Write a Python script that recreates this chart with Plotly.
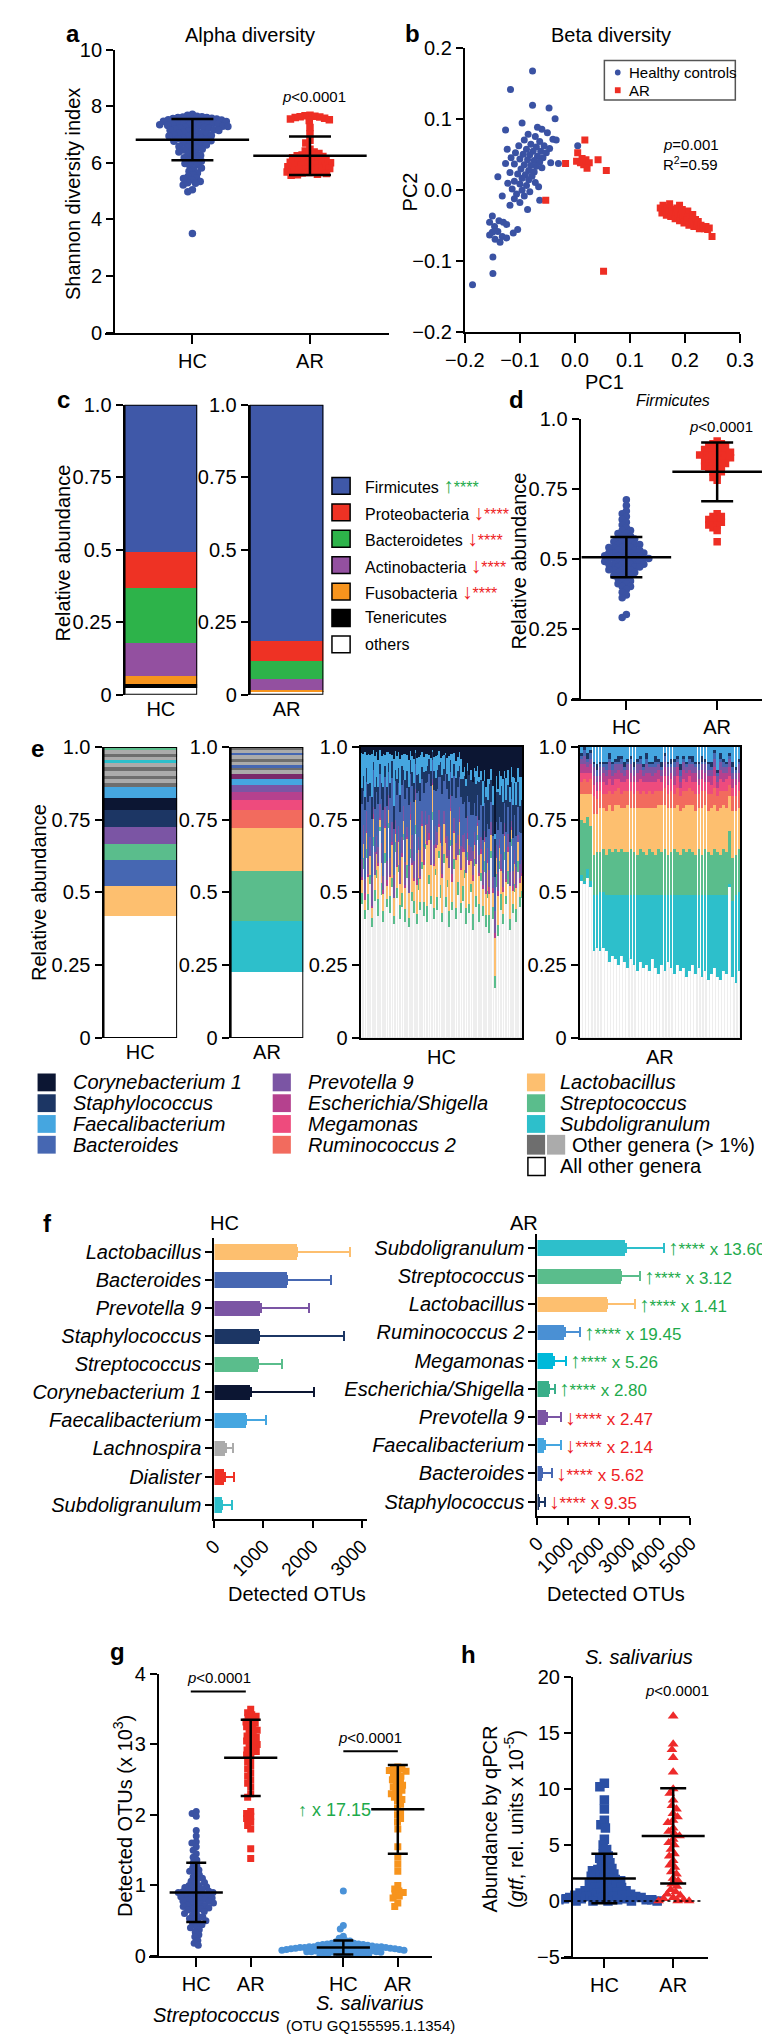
import numpy as np
import plotly.graph_objects as go

W, H = 770, 2040
FONT = "Liberation Sans, Arial, Helvetica, sans-serif"

# ======================= DATA =======================
# --- a: alpha diversity (Shannon) ---
alpha_cats = ["HC", "AR"]
alpha_hc = [7.72, 7.68, 7.65, 7.63, 7.62, 7.60, 7.60, 7.58, 7.57, 7.55,
            7.54, 7.52, 7.51, 7.50, 7.48, 7.47, 7.46, 7.45, 7.43, 7.42,
            7.41, 7.40, 7.38, 7.37, 7.36, 7.35, 7.33, 7.32, 7.30, 7.29,
            7.28, 7.26, 7.25, 7.23, 7.22, 7.20, 7.19, 7.17, 7.15, 7.14,
            7.12, 7.10, 7.08, 7.06, 7.05, 7.03, 7.01, 6.99, 6.97, 6.95,
            6.93, 6.91, 6.89, 6.87, 6.85, 6.83, 6.80, 6.78, 6.76, 6.74,
            6.71, 6.69, 6.66, 6.63, 6.60, 6.58, 6.55, 6.52, 6.48, 6.45,
            6.42, 6.38, 6.34, 6.30, 6.26, 6.22, 6.18, 6.14, 6.10, 6.06,
            6.02, 5.98, 5.93, 5.88, 5.82, 5.76, 5.70, 5.64, 5.58, 5.52,
            5.46, 5.40, 5.34, 5.28, 5.22, 5.30, 5.45, 5.05, 4.98, 3.50]
alpha_ar = [7.68, 7.66, 7.65, 7.63, 7.62, 7.60, 7.58, 7.55, 7.52, 7.50, 7.25,
            7.02, 6.80, 6.70, 6.48, 6.42, 6.38, 6.33, 6.30, 6.28, 6.25, 6.22,
            6.20, 6.18, 6.15, 6.12, 6.10, 6.08, 6.06, 6.04, 6.02, 6.00, 5.98,
            5.96, 5.94, 5.92, 5.90, 5.88, 5.86, 5.84, 5.82, 5.80, 5.78, 5.76,
            5.74, 5.72, 5.70, 5.68, 5.66, 5.64, 5.62, 5.60, 5.58, 5.56]
alpha_mean = [6.82, 6.25]
alpha_sd = [0.73, 0.68]

# --- b: beta diversity PCoA ---
pc1_hc = [-0.077, -0.117, -0.077, -0.047, -0.036, -0.096, -0.126, -0.068, -0.060, -0.050,
          -0.085, -0.072, -0.040, -0.092, -0.064, -0.080, -0.102, -0.056, -0.070, -0.123,
          -0.088, -0.076, -0.062, -0.108, -0.094, -0.082, -0.068, -0.058, -0.116, -0.100,
          -0.086, -0.074, -0.064, -0.044, -0.030, -0.126, -0.110, -0.092, -0.080, -0.070,
          -0.060, -0.098, -0.084, -0.074, -0.118, -0.104, -0.090, -0.078, -0.140, -0.096,
          -0.084, -0.110, -0.122, -0.100, -0.088, -0.066, -0.114, -0.096, -0.082, -0.106,
          -0.132, -0.092, -0.110, -0.064, -0.100, -0.118, -0.086, -0.150, -0.155, -0.138,
          -0.130, -0.124, -0.146, -0.104, -0.150, -0.140, -0.112, -0.155, -0.132, -0.124,
          -0.145, -0.136, -0.149, -0.149, -0.186, 0.005, -0.034, -0.052, -0.046, -0.072]
pc2_hc = [0.167, 0.141, 0.119, 0.115, 0.100, 0.094, 0.084, 0.088, 0.085, 0.080,
          0.078, 0.075, 0.071, 0.070, 0.068, 0.064, 0.062, 0.062, 0.060, 0.057,
          0.057, 0.054, 0.054, 0.052, 0.050, 0.049, 0.047, 0.045, 0.045, 0.043,
          0.042, 0.041, 0.039, 0.038, 0.037, 0.037, 0.036, 0.035, 0.034, 0.033,
          0.031, 0.029, 0.027, 0.025, 0.024, 0.022, 0.021, 0.019, 0.018, 0.016,
          0.014, 0.012, 0.009, 0.008, 0.006, 0.004, 0.001, -0.001, -0.003, -0.006,
          -0.009, -0.009, -0.013, -0.015, -0.018, -0.022, -0.028, -0.037, -0.046, -0.044,
          -0.046, -0.049, -0.052, -0.056, -0.060, -0.059, -0.061, -0.064, -0.066, -0.068,
          -0.070, -0.074, -0.095, -0.118, -0.134, 0.062, 0.070, 0.052, 0.058, 0.010]
pc1_ar = [-0.017, 0.005, 0.018, 0.003, 0.010, 0.016, 0.020, 0.026, 0.022, 0.042, 0.057, 0.013, -0.053, 0.052,
          0.155, 0.158, 0.160, 0.163, 0.166, 0.168, 0.171, 0.174, 0.176, 0.179,
          0.182, 0.184, 0.187, 0.190, 0.190, 0.193, 0.196, 0.198, 0.200, 0.203,
          0.205, 0.207, 0.209, 0.212, 0.214, 0.216, 0.219, 0.221, 0.224, 0.226,
          0.229, 0.232, 0.235, 0.238, 0.241, 0.244, 0.249, 0.172, 0.185, 0.195]
pc2_ar = [0.037, 0.052, 0.070, 0.040, 0.038, 0.035, 0.042, 0.038, 0.030, 0.042, 0.027, 0.044, -0.015, -0.115,
          -0.026, -0.033, -0.022, -0.029, -0.036, -0.025, -0.031, -0.038, -0.028, -0.034,
          -0.041, -0.030, -0.037, -0.022, -0.044, -0.033, -0.040, -0.047, -0.036, -0.043,
          -0.030, -0.050, -0.039, -0.046, -0.035, -0.052, -0.042, -0.049, -0.045, -0.055,
          -0.050, -0.053, -0.055, -0.052, -0.056, -0.054, -0.066, -0.020, -0.026, -0.028]

# --- c: phylum composition (bottom -> top) ---
phyla = ["others", "Tenericutes", "Fusobacteria", "Actinobacteria", "Bacteroidetes", "Proteobacteria", "Firmicutes"]
phyla_hc = [0.022, 0.014, 0.030, 0.112, 0.191, 0.125, 0.506]
phyla_ar = [0.011, 0.002, 0.004, 0.036, 0.064, 0.068, 0.815]
phyla_legend = ["Firmicutes", "Proteobacteria", "Bacteroidetes", "Actinobacteria", "Fusobacteria", "Tenericutes", "others"]
phyla_change = ["up", "down", "down", "down", "down", "", ""]

# --- d: Firmicutes relative abundance ---
firm_hc = [0.71, 0.69, 0.67, 0.66, 0.65, 0.64, 0.63, 0.62, 0.61, 0.60, 0.60, 0.59, 0.59, 0.58, 0.58,
           0.57, 0.57, 0.57, 0.56, 0.56, 0.56, 0.55, 0.55, 0.55, 0.55, 0.54, 0.54, 0.54, 0.54, 0.53,
           0.53, 0.53, 0.53, 0.52, 0.52, 0.52, 0.52, 0.52, 0.51, 0.51, 0.51, 0.51, 0.51, 0.50, 0.50,
           0.50, 0.50, 0.50, 0.50, 0.49, 0.49, 0.49, 0.49, 0.49, 0.48, 0.48, 0.48, 0.48, 0.48, 0.47,
           0.47, 0.47, 0.47, 0.46, 0.46, 0.46, 0.46, 0.45, 0.45, 0.45, 0.44, 0.44, 0.44, 0.43, 0.43,
           0.42, 0.42, 0.41, 0.41, 0.40, 0.40, 0.39, 0.38, 0.37, 0.36, 0.30, 0.29]
firm_ar = [0.92, 0.91, 0.91, 0.90, 0.90, 0.90, 0.89, 0.89, 0.89, 0.88, 0.88, 0.88, 0.88, 0.87, 0.87,
           0.87, 0.87, 0.86, 0.86, 0.86, 0.86, 0.85, 0.85, 0.85, 0.84, 0.84, 0.84, 0.83, 0.83, 0.83,
           0.82, 0.82, 0.81, 0.81, 0.80, 0.79, 0.78, 0.66, 0.65, 0.65, 0.64, 0.64, 0.63, 0.63, 0.62,
           0.62, 0.61, 0.60, 0.56]
firm_mean = [0.505, 0.81]
firm_sd = [0.072, 0.105]

# --- e: genus composition, pooled (bottom -> top) ---
e_hc_genus = ["All other genera", "Lactobacillus", "Bacteroides", "Streptococcus", "Prevotella 9",
              "Staphylococcus", "Corynebacterium 1", "Faecalibacterium", "Other dark", "Other light",
              "Other dark", "Other light", "Other dark", "Other light", "Subdoligranulum", "Other light",
              "Other dark", "Other light", "Streptococcus"]
e_hc_frac = [0.420, 0.103, 0.089, 0.056, 0.058, 0.057, 0.043, 0.038, 0.012, 0.015,
             0.010, 0.018, 0.012, 0.015, 0.008, 0.012, 0.010, 0.012, 0.012]
e_ar_genus = ["All other genera", "Subdoligranulum", "Streptococcus", "Lactobacillus", "Ruminococcus 2",
              "Megamonas", "Escherichia/Shigella", "Prevotella 9", "Faecalibacterium", "Other genus",
              "Other light", "Other dark", "Bacteroides", "Other light", "Other dark", "Other light",
              "Bacteroides", "Other light", "Other dark"]
e_ar_frac = [0.225, 0.178, 0.172, 0.147, 0.062, 0.034, 0.027, 0.023, 0.022, 0.018,
             0.012, 0.008, 0.010, 0.012, 0.010, 0.012, 0.008, 0.010, 0.010]

# --- e: HC per-sample: "all other genera" (% of reads) and shares (%) of the remaining genera ---
hc_s_other = [46, 58, 41, 62, 44, 53, 38, 66, 47, 55, 42, 71, 49, 40, 60, 45, 72, 43, 52, 39, 64, 48, 57, 41,
              45, 68, 40, 55, 38, 62, 47, 43, 70, 39, 51, 44, 58, 42, 65, 40, 53, 46, 75, 41, 56, 44, 62, 48,
              40, 60, 45, 52, 38, 66, 44, 58, 41, 49, 63, 43, 47, 55, 39, 61, 43, 50, 37, 59, 45, 68, 40, 54,
              42, 57, 38, 48, 36, 62, 41, 17, 52, 35, 58, 44, 39, 61, 46, 53, 37, 66, 43, 50, 40, 57, 45, 48]
hc_sh_strep = [7, 9, 5, 8, 10, 6, 5, 9, 7, 6, 10, 5, 8, 6, 9, 5, 7, 10, 6, 5, 9, 7, 6, 8,
               9, 6, 7, 10, 5, 8, 6, 7, 11, 6, 8, 5, 6, 8, 5, 9, 6, 5, 10, 6, 5, 8, 6, 9,
               5, 8, 6, 5, 9, 6, 5, 8, 6, 9, 5, 6, 10, 6, 9, 7, 5, 6, 9, 6, 7, 5, 10, 6,
               6, 9, 7, 5, 10, 6, 7, 5, 9, 6, 7, 10, 6, 7, 5, 9, 6, 7, 5, 6, 7, 9, 6, 5]
hc_sh_lacto = [8, 12, 6, 15, 10, 14, 6, 18, 10, 12, 20, 8, 14, 10, 22, 8, 16, 12, 24, 10, 8, 14, 18, 12,
               22, 15, 12, 20, 14, 26, 18, 12, 28, 16, 20, 14, 30, 22, 18, 35, 26, 20, 38, 25, 16, 32, 22, 28,
               20, 26, 34, 16, 24, 30, 12, 22, 28, 18, 25, 20, 22, 14, 20, 12, 24, 16, 18, 12, 20, 10, 16, 14,
               10, 15, 12, 18, 11, 14, 8, 16, 12, 15, 10, 14, 12, 15, 9, 14, 18, 10, 8, 14, 12, 15, 9, 10]
hc_sh_esch = [2, 0, 4, 1, 2, 0, 1, 5, 0, 2, 1, 3, 0, 2, 1, 4, 0, 1, 2, 0, 5, 1, 2, 0,
              3, 0, 2, 1, 0, 5, 1, 2, 0, 3, 1, 2, 1, 3, 0, 2, 5, 0, 2, 1, 3, 0, 2, 1,
              2, 0, 3, 1, 0, 2, 5, 1, 2, 0, 3, 1, 3, 2, 0, 5, 2, 1, 3, 2, 0, 3, 2, 4,
              2, 3, 1, 2, 4, 0, 3, 2, 1, 3, 2, 1, 3, 1, 2, 4, 0, 2, 3, 1, 2, 0, 3, 2]
hc_sh_prev = [12, 15, 8, 18, 10, 14, 16, 7, 15, 12, 10, 16, 13, 8, 16, 12, 18, 10, 14, 13, 8, 16, 11, 14,
              10, 16, 13, 8, 15, 11, 18, 10, 13, 15, 8, 16, 11, 8, 14, 10, 13, 16, 6, 11, 14, 8, 13, 10,
              16, 11, 8, 14, 10, 13, 18, 11, 8, 14, 11, 13, 8, 12, 9, 15, 10, 8, 13, 9, 12, 8, 10, 9,
              9, 6, 10, 8, 9, 12, 6, 9, 8, 10, 6, 9, 8, 10, 6, 9, 8, 6, 9, 8, 10, 6, 9, 8]
hc_sh_bact = [35, 28, 40, 26, 34, 30, 32, 38, 28, 34, 25, 36, 30, 38, 26, 34, 28, 36, 32, 26, 38, 30, 34, 28,
              32, 28, 36, 30, 34, 26, 32, 36, 28, 34, 32, 30, 26, 32, 28, 24, 30, 34, 26, 32, 28, 26, 30, 32,
              30, 26, 32, 34, 28, 24, 30, 34, 26, 32, 28, 30, 20, 24, 22, 18, 26, 22, 20, 24, 18, 22, 20, 24,
              18, 22, 20, 16, 22, 18, 24, 14, 16, 22, 18, 20, 22, 18, 24, 20, 16, 22, 20, 24, 18, 22, 20, 18]
hc_sh_staph = [10, 12, 8, 13, 11, 10, 12, 8, 14, 11, 10, 12, 11, 13, 10, 12, 11, 9, 12, 13, 10, 11, 12, 10,
               12, 10, 11, 13, 10, 12, 9, 11, 13, 10, 12, 11, 10, 12, 11, 9, 11, 10, 12, 11, 10, 12, 11, 10,
               11, 10, 12, 11, 10, 12, 11, 10, 12, 11, 10, 11, 16, 20, 18, 22, 16, 24, 18, 22, 20, 16, 22, 18,
               20, 18, 22, 16, 24, 20, 18, 16, 22, 20, 18, 22, 18, 22, 20, 16, 22, 18, 20, 22, 18, 20, 16, 22]
hc_sh_cory = [4, 6, 3, 7, 4, 6, 4, 3, 6, 4, 8, 4, 6, 4, 7, 3, 6, 4, 6, 7, 4, 6, 4, 7,
              5, 7, 4, 6, 7, 4, 6, 7, 4, 6, 7, 5, 4, 6, 7, 4, 6, 7, 4, 6, 7, 5, 4, 7,
              5, 7, 4, 8, 5, 7, 4, 5, 8, 7, 5, 7, 16, 15, 18, 14, 17, 16, 19, 18, 15, 20, 17, 18,
              20, 18, 22, 21, 17, 20, 23, 36, 21, 22, 20, 18, 18, 21, 20, 17, 22, 20, 18, 21, 20, 17, 19, 20]

# --- e: AR per-sample composition (% of reads), bottom -> top ---
ar_s_other = [54, 53, 55, 52, 30, 31, 30, 31, 30, 26, 28, 27, 25, 28, 26, 24, 27, 25, 23, 26, 24, 25, 23, 27, 24, 22,
              25, 23, 26, 24, 22, 25, 23, 24, 21, 23, 25, 22, 24, 21, 23, 20, 22, 24, 21, 20, 23, 22, 52, 21, 19, 23]
ar_s_subdo = [2, 1, 3, 2, 19, 18, 20, 19, 19, 23, 21, 22, 24, 21, 23, 25, 22, 24, 26, 23, 25, 24, 26, 22, 25, 27,
              24, 26, 23, 25, 27, 24, 26, 25, 28, 26, 24, 27, 25, 28, 26, 29, 27, 25, 28, 29, 26, 27, 1, 26, 30, 27]
ar_s_strep = [19, 20, 18, 19, 14, 15, 14, 15, 14, 16, 15, 16, 15, 16, 15, 15, 16, 15, 14, 16, 15, 14, 16, 15, 14, 16,
              15, 16, 14, 15, 16, 15, 14, 16, 15, 16, 15, 14, 16, 14, 16, 15, 14, 16, 15, 14, 16, 15, 18, 15, 14, 15]
ar_s_lacto = [9, 10, 8, 11, 14, 13, 15, 14, 15, 15, 14, 15, 16, 14, 15, 16, 14, 15, 16, 14, 15, 16, 14, 15, 16, 15,
              16, 15, 16, 15, 14, 16, 15, 14, 16, 15, 16, 15, 14, 16, 15, 14, 16, 15, 14, 16, 15, 15, 12, 16, 15, 14]
ar_s_rumi = [4, 5, 4, 5, 6, 5, 6, 5, 6, 5, 6, 5, 6, 5, 6, 5, 6, 5, 6, 5, 6, 5, 6, 5, 6, 5,
             5, 6, 5, 6, 5, 6, 5, 6, 5, 6, 5, 6, 5, 6, 5, 6, 5, 6, 5, 6, 5, 6, 4, 5, 5, 6]
ar_s_mega = [3, 2, 3, 2, 4, 3, 3, 4, 3, 4, 3, 4, 3, 4, 3, 4, 3, 4, 3, 5, 3, 4, 3, 4, 3, 4,
             3, 4, 3, 4, 3, 4, 3, 4, 3, 4, 3, 4, 3, 4, 3, 4, 3, 4, 3, 4, 3, 4, 3, 3, 4, 3]
ar_s_esch = [3, 3, 2, 3, 3, 3, 2, 3, 3, 3, 3, 2, 3, 3, 2, 3, 3, 2, 3, 3, 2, 3, 3, 2, 3, 3,
             2, 3, 3, 2, 3, 3, 2, 3, 3, 2, 3, 3, 2, 3, 3, 2, 3, 3, 2, 3, 3, 2, 3, 3, 2, 3]
ar_s_prev = [2, 3, 2, 2, 3, 2, 3, 2, 2, 3, 2, 3, 2, 3, 2, 2, 3, 2, 3, 2, 2, 3, 2, 3, 2, 2,
             2, 2, 3, 2, 3, 2, 2, 3, 2, 2, 3, 2, 3, 2, 3, 2, 2, 3, 2, 3, 2, 2, 3, 2, 2, 3]
ar_s_bact = [1, 2, 1, 2, 1, 2, 1, 1, 2, 1, 2, 1, 1, 2, 1, 1, 2, 1, 1, 2, 1, 2, 1, 1, 2, 1,
             1, 2, 1, 1, 2, 1, 2, 1, 1, 2, 1, 1, 2, 1, 1, 2, 1, 2, 1, 1, 2, 1, 1, 2, 1, 1]
ar_s_staph = [1, 1, 2, 1, 1, 2, 1, 1, 1, 2, 1, 1, 2, 1, 2, 1, 1, 2, 1, 1, 1, 2, 1, 1, 2, 1,
              2, 1, 1, 2, 1, 1, 2, 1, 1, 1, 2, 1, 1, 2, 1, 1, 2, 1, 1, 2, 1, 1, 1, 2, 1, 1]

# --- f: detected OTUs per genus (mean, SD) ---
f_hc_genus = ["Lactobacillus", "Bacteroides", "Prevotella 9", "Staphylococcus", "Streptococcus",
              "Corynebacterium 1", "Faecalibacterium", "Lachnospira", "Dialister", "Subdoligranulum"]
f_hc_otu = [1692, 1480, 942, 913, 894, 740, 644, 231, 212, 163]
f_hc_sd = [1068, 895, 991, 1722, 491, 1289, 404, 154, 192, 193]
f_ar_genus = ["Subdoligranulum", "Streptococcus", "Lactobacillus", "Ruminococcus 2", "Megamonas",
              "Escherichia/Shigella", "Prevotella 9", "Faecalibacterium", "Bacteroides", "Staphylococcus"]
f_ar_otu = [2892, 2738, 2277, 892, 538, 385, 308, 231, 154, 46]
f_ar_sd = [1231, 600, 923, 493, 385, 200, 462, 539, 308, 185]
f_ar_dir = ["up", "up", "up", "up", "up", "up", "down", "down", "down", "down"]
f_ar_fold = ["13.60", "3.12", "1.41", "19.45", "5.26", "2.80", "2.47", "2.14", "5.62", "9.35"]

# --- g: Streptococcus and S. salivarius OTUs (x 10^3) ---
g_labels = ["HC", "AR", "HC", "AR"]
strep_hc = [2.05, 2.02, 1.98, 1.78, 1.70, 1.62, 1.60, 1.55, 1.50, 1.45, 1.40, 1.36, 1.32, 1.28, 1.25,
            1.22, 1.20, 1.18, 1.15, 1.12, 1.10, 1.08, 1.06, 1.04, 1.02, 1.00, 1.00, 0.98, 0.97, 0.96,
            0.95, 0.94, 0.93, 0.92, 0.91, 0.90, 0.90, 0.89, 0.88, 0.87, 0.86, 0.85, 0.85, 0.84, 0.83,
            0.82, 0.81, 0.80, 0.80, 0.79, 0.78, 0.77, 0.76, 0.75, 0.74, 0.73, 0.72, 0.71, 0.70, 0.69,
            0.68, 0.67, 0.66, 0.65, 0.63, 0.62, 0.60, 0.58, 0.56, 0.55, 0.53, 0.52, 0.50, 0.48, 0.46,
            0.44, 0.42, 0.40, 0.37, 0.34, 0.30, 0.27, 0.22, 0.18, 0.15]
strep_ar = [3.50, 3.45, 3.42, 3.40, 3.38, 3.35, 3.32, 3.30, 3.28, 3.25, 3.22, 3.20, 3.18, 3.15, 3.12,
            3.10, 3.08, 3.05, 3.02, 3.00, 2.98, 2.95, 2.92, 2.90, 2.88, 2.85, 2.80, 2.75, 2.70, 2.65,
            2.60, 2.55, 2.50, 2.45, 2.40, 2.30, 2.25, 2.05, 2.02, 1.98, 1.95, 1.90, 1.85, 1.80, 1.52, 1.38]
sal_hc = [0.92, 0.43, 0.38, 0.28, 0.25, 0.22, 0.21, 0.20, 0.19, 0.18, 0.18, 0.17, 0.17, 0.16, 0.16,
          0.15, 0.15, 0.15, 0.14, 0.14, 0.14, 0.13, 0.13, 0.13, 0.13, 0.12, 0.12, 0.12, 0.12, 0.11,
          0.11, 0.11, 0.11, 0.10, 0.10, 0.10, 0.10, 0.10, 0.09, 0.09, 0.09, 0.09, 0.08, 0.08, 0.08,
          0.08, 0.07, 0.07, 0.07, 0.06, 0.06, 0.06, 0.05, 0.05, 0.05, 0.04, 0.04, 0.03, 0.03, 0.02,
          0.02, 0.01, 0.01, 0.00, 0.00]
sal_ar = [2.68, 2.66, 2.65, 2.63, 2.62, 2.60, 2.58, 2.55, 2.52, 2.50, 2.48, 2.45, 2.42, 2.40, 2.38,
          2.35, 2.32, 2.30, 2.27, 2.25, 2.22, 2.20, 2.15, 2.10, 2.05, 2.00, 1.95, 1.90, 1.80, 1.55,
          1.40, 1.30, 1.20, 1.00, 0.95, 0.92, 0.90, 0.88, 0.85, 0.82, 0.75, 0.70]
g_mean = [0.90, 2.81, 0.12, 2.08]
g_sd = [0.42, 0.54, 0.10, 0.63]

# --- h: S. salivarius qPCR ---
h_cats = ["HC", "AR"]
qpcr_hc = [10.5, 10.2, 9.0, 8.2, 7.2, 6.8, 6.5, 5.5, 5.0, 4.6, 4.2, 4.0, 3.8, 3.6, 3.4, 3.2, 3.0, 2.9,
           2.8, 2.7, 2.6, 2.5, 2.4, 2.3, 2.2, 2.1, 2.0, 1.9, 1.8, 1.8, 1.7, 1.6, 1.5, 1.5, 1.4, 1.3,
           1.2, 1.2, 1.1, 1.0, 1.0, 0.9, 0.9, 0.8, 0.8, 0.7, 0.7, 0.6, 0.6, 0.5, 0.5, 0.5, 0.4, 0.4,
           0.4, 0.3, 0.3, 0.3, 0.2, 0.2, 0.2, 0.2, 0.1, 0.1, 0.1, 0.1, 0.1, 0.0, 0.0, 0.0, 0.0, 0.0, 0.0]
qpcr_ar = [16.5, 14.0, 13.5, 12.8, 11.5, 10.0, 9.6, 9.0, 8.5, 8.2, 7.8, 7.5, 7.2, 7.0, 6.5, 6.2, 6.0,
           5.8, 5.5, 5.2, 5.0, 4.6, 4.2, 4.0, 3.6, 3.2, 3.0, 2.6, 2.4, 2.0, 1.8, 1.5, 1.3, 1.0, 0.8,
           0.6, 0.5, 0.3, 0.2, 0.1, 0.0, 0.0, 0.0]
qpcr_mean = [2.0, 5.8]
qpcr_sd = [2.2, 4.25]

# ======================= STYLE =======================
BLUE = "#3A52A3"
RED = "#EE2E24"
UPC = "#1DAA4B"
DNC = "#EE1C24"
PHY_COL = {"Firmicutes": "#3F58A8", "Proteobacteria": "#EE3224", "Bacteroidetes": "#2DB34A",
           "Actinobacteria": "#9350A0", "Fusobacteria": "#F7941D", "Tenericutes": "#000000",
           "others": "#FFFFFF"}
GEN_COL = {"Corynebacterium 1": "#0C1633", "Staphylococcus": "#1C3664", "Faecalibacterium": "#45A6E0",
           "Bacteroides": "#4667B2", "Prevotella 9": "#7B55A4", "Escherichia/Shigella": "#B5418E",
           "Megamonas": "#EE4B7D", "Ruminococcus 2": "#F26B5E", "Lactobacillus": "#FDBF6F",
           "Streptococcus": "#5ABD8C", "Subdoligranulum": "#2DBFCB", "Other dark": "#6E6E6E",
           "Other light": "#ABABAB", "Other genus": "#7A2B6B", "All other genera": "#FFFFFF",
           "Lachnospira": "#ABABAB", "Dialister": "#EF3125"}
F_AR_COL = dict(GEN_COL)
F_AR_COL.update({"Ruminococcus 2": "#4A90D4", "Megamonas": "#00B9DA", "Escherichia/Shigella": "#3AAF8A"})


def dom_x(a, b):
    return [a / W, b / W]


def dom_y(top, bot):
    return [1 - bot / H, 1 - top / H]


def lin_range(p0, p1, pa, va, pb, vb):
    s = (vb - va) / (pb - pa)
    return [va + (p0 - pa) * s, va + (p1 - pa) * s]


def swarm(vals, ppu_y, d):
    ys = np.asarray(vals, float) * ppu_y
    order = np.argsort(-ys, kind="stable")
    qx, qy = [], []
    out = np.zeros(len(ys))
    for i in order:
        y = ys[i]
        ivs = []
        for a, b in zip(qx, qy):
            dv = abs(y - b)
            if dv < d:
                w = np.sqrt(d * d - dv * dv)
                ivs.append((a - w, a + w))
        cands = [0.0] + [a for a, b in ivs] + [b for a, b in ivs]
        cands.sort(key=lambda c: (abs(c), c))
        for c in cands:
            if all(not (a + 1e-6 < c < b - 1e-6) for a, b in ivs):
                out[i] = c
                break
        qx.append(out[i])
        qy.append(y)
    return out


fig = go.Figure()
layout_axes = {}


def axis_base(**kw):
    d = dict(showline=True, linecolor="black", linewidth=2, ticks="outside", ticklen=7, tickwidth=2,
             tickcolor="black", showgrid=False, zeroline=False, fixedrange=True,
             tickfont=dict(family=FONT, size=20, color="black"))
    d.update(kw)
    return d


def add_axes(n, xdom, xrange, ydom, yrange, xkw=None, ykw=None):
    sx = "" if n == 1 else str(n)
    xa = axis_base(domain=xdom, range=xrange, anchor="y" + sx)
    ya = axis_base(domain=ydom, range=yrange, anchor="x" + sx)
    xa.update(xkw or {})
    ya.update(ykw or {})
    layout_axes["xaxis" + sx] = xa
    layout_axes["yaxis" + sx] = ya
    return "x" + sx, "y" + sx


def swarm_panel(xr, yr, groups, xpos, colors, symbols, size, d, ppu_x, ppu_y, means, sds, mean_len, cap):
    for vals, x0, col, sym in zip(groups, xpos, colors, symbols):
        off = swarm(vals, ppu_y, d)
        fig.add_trace(go.Scatter(x=x0 + off / ppu_x, y=vals, mode="markers", xaxis=xr, yaxis=yr,
                                 marker=dict(color=col, size=size, symbol=sym, line=dict(width=0)),
                                 showlegend=False, hoverinfo="skip"))
    for x0, m, s in zip(xpos, means, sds):
        fig.add_trace(go.Scatter(x=[x0], y=[m], mode="markers", xaxis=xr, yaxis=yr, showlegend=False,
                                 marker=dict(symbol="line-ew", size=mean_len, color="black",
                                             line=dict(width=2.5, color="black")),
                                 error_y=dict(type="data", array=[s], visible=True, color="black",
                                              thickness=2.5, width=cap), hoverinfo="skip"))


# ---------------- panel a ----------------
xa_rng = lin_range(81, 378, 172, 0, 295, 1)
xr, yr = add_axes(1, dom_x(81, 378), xa_rng, dom_y(31, 317), [0, 10],
                  xkw=dict(tickvals=[0, 1], ticktext=alpha_cats, ticklen=9),
                  ykw=dict(anchor="free", position=90 / W, tickvals=[0, 2, 4, 6, 8, 10]))
swarm_panel(xr, yr, [alpha_hc, alpha_ar], [0, 1], [BLUE, RED], ["circle", "square"], 7.5, 5.2,
            123.0, 28.6, alpha_mean, alpha_sd, 81, 21)

# ---------------- panel b ----------------
xr, yr = add_axes(2, dom_x(457, 745), [-0.2, 0.3], dom_y(29, 316), [-0.2, 0.2],
                  xkw=dict(tickvals=[-0.2, -0.1, 0, 0.1, 0.2, 0.3], tickformat=".1f", ticklen=9),
                  ykw=dict(tickvals=[-0.2, -0.1, 0, 0.1, 0.2], tickformat=".1f"))
fig.add_trace(go.Scatter(x=pc1_hc, y=pc2_hc, mode="markers", xaxis=xr, yaxis=yr, showlegend=False,
                         marker=dict(color=BLUE, size=7, symbol="circle")))
fig.add_trace(go.Scatter(x=pc1_ar, y=pc2_ar, mode="markers", xaxis=xr, yaxis=yr, showlegend=False,
                         marker=dict(color=RED, size=7, symbol="square")))

# ---------------- panel c ----------------
shapes = []
for n, vals, lab, xd in [(3, phyla_hc, "HC", (101, 177)), (4, phyla_ar, "AR", (232, 309))]:
    xr, yr = add_axes(n, dom_x(*xd), [-0.5, 0.5], dom_y(390, 683), [0, 1],
                      xkw=dict(showline=False, ticks="", tickvals=[0], ticktext=[lab]),
                      ykw=dict(tickvals=[0, 0.25, 0.5, 0.75, 1.0], ticktext=["0", "0.25", "0.5", "0.75", "1.0"]))
    for ph, v in zip(phyla, vals):
        fig.add_trace(go.Bar(x=[0], y=[v], width=1, xaxis=xr, yaxis=yr, marker_color=PHY_COL[ph],
                             marker_line_width=0, showlegend=False, hoverinfo="skip"))
    shapes.append(dict(type="rect", xref=xr, yref=yr, x0=-0.5, x1=0.5, y0=0, y1=1,
                       line=dict(color="black", width=2)))

# ---------------- panel d ----------------
xd_rng = lin_range(568, 768, 626, 0, 721, 1)
xr, yr = add_axes(5, dom_x(568, 768), xd_rng, dom_y(404, 687), [0, 1],
                  xkw=dict(tickvals=[0, 1], ticktext=alpha_cats, ticklen=9),
                  ykw=dict(anchor="free", position=577 / W, tickvals=[0, 0.25, 0.5, 0.75, 1.0],
                           ticktext=["0", "0.25", "0.5", "0.75", "1.0"]))
swarm_panel(xr, yr, [firm_hc, firm_ar], [0, 1], [BLUE, RED], ["circle", "square"], 7.5, 5.2,
            95.0, 283.0, firm_mean, firm_sd, 64, 16)

# ---------------- panel e ----------------
eticks = dict(tickvals=[0, 0.25, 0.5, 0.75, 1.0], ticktext=["0", "0.25", "0.5", "0.75", "1.0"])
for n, gen, vals, lab, xd in [(6, e_hc_genus, e_hc_frac, "HC", (79, 156)), (7, e_ar_genus, e_ar_frac, "AR", (212, 288))]:
    xr, yr = add_axes(n, dom_x(*xd), [-0.5, 0.5], dom_y(736, 1030), [0, 1],
                      xkw=dict(showline=False, ticks="", tickvals=[0], ticktext=[lab]), ykw=eticks)
    for g, v in zip(gen, vals):
        fig.add_trace(go.Bar(x=[0], y=[v], width=1, xaxis=xr, yaxis=yr, marker_color=GEN_COL[g],
                             marker_line_width=0, showlegend=False, hoverinfo="skip"))
    shapes.append(dict(type="rect", xref=xr, yref=yr, x0=-0.5, x1=0.5, y0=0, y1=1,
                       line=dict(color="black", width=2)))

# HC per sample: shares of the non-"other" part, Faecalibacterium = rest of the shares
other = np.asarray(hc_s_other, float) / 100.0
sh = {"Streptococcus": hc_sh_strep, "Lactobacillus": hc_sh_lacto, "Escherichia/Shigella": hc_sh_esch,
      "Prevotella 9": hc_sh_prev, "Bacteroides": hc_sh_bact, "Staphylococcus": hc_sh_staph,
      "Corynebacterium 1": hc_sh_cory}
sh = {k: np.asarray(v, float) for k, v in sh.items()}
tot = sum(sh.values())
sh["Faecalibacterium"] = np.clip(100 - tot, 0, None)
norm = np.maximum(tot, 100.0)
hc_order = ["Streptococcus", "Lactobacillus", "Escherichia/Shigella", "Prevotella 9", "Bacteroides",
            "Staphylococcus", "Faecalibacterium", "Corynebacterium 1"]
hc_layers = [("All other genera", other)] + [(g, sh[g] / norm * (1 - other)) for g in hc_order]

ar_layers = [("All other genera", ar_s_other), ("Subdoligranulum", ar_s_subdo), ("Streptococcus", ar_s_strep),
             ("Lactobacillus", ar_s_lacto), ("Ruminococcus 2", ar_s_rumi), ("Megamonas", ar_s_mega),
             ("Escherichia/Shigella", ar_s_esch), ("Prevotella 9", ar_s_prev), ("Bacteroides", ar_s_bact),
             ("Staphylococcus", ar_s_staph)]
ar_layers = [(g, np.asarray(v, float) / 100.0) for g, v in ar_layers]
ar_layers.append(("Faecalibacterium", np.clip(1 - sum(v for _, v in ar_layers), 0, None)))

for n, layers, lab, xd in [(8, hc_layers, "HC", (348, 517)), (9, ar_layers, "AR", (577, 745))]:
    ns = len(layers[0][1])
    xr, yr = add_axes(n, dom_x(*xd), [-0.5, ns - 0.5], dom_y(736, 1030), [0, 1],
                      xkw=dict(mirror=True, ticks="", tickvals=[(ns - 1) / 2], ticktext=[lab]),
                      ykw=dict(mirror=True, **eticks))
    xs = list(range(ns))
    for g, arr in layers:
        lw = 0.6 if g == "All other genera" else 0
        fig.add_trace(go.Bar(x=xs, y=arr, width=0.9, xaxis=xr, yaxis=yr, marker_color=GEN_COL[g],
                             marker_line=dict(width=lw, color="#e2e2e2"), showlegend=False, hoverinfo="skip"))

# ---------------- panel f ----------------
for n, gens, vals, sds, cmap, xd, yd, xrng, tv in [
        (10, f_hc_genus, f_hc_otu, f_hc_sd, GEN_COL, (195, 355), (1232, 1516),
         lin_range(195, 355, 195, 0, 349, 3000), [0, 1000, 2000, 3000]),
        (11, f_ar_genus, f_ar_otu, f_ar_sd, F_AR_COL, (533, 693), (1228, 1513),
         [0, 5000], [0, 1000, 2000, 3000, 4000, 5000])]:
    xr, yr = add_axes(n, dom_x(*xd), xrng, dom_y(*yd), [len(gens) - 0.5, -0.5],
                      xkw=dict(tickvals=tv, tickangle=-45, tickfont=dict(family=FONT, size=19, color="black")),
                      ykw=dict(type="category", categoryorder="array", categoryarray=gens,
                               tickfont=dict(family=FONT, size=20, color="black", style="italic")))
    for g, v, s in zip(gens, vals, sds):
        c = cmap[g]
        fig.add_trace(go.Bar(x=[v], y=[g], orientation="h", width=0.55, xaxis=xr, yaxis=yr,
                             marker=dict(color=c, line=dict(width=0)), showlegend=False, hoverinfo="skip",
                             error_x=dict(type="data", symmetric=False, array=[s], arrayminus=[0],
                                          color=c, thickness=2, width=5)))

ann = []


def A(text, x, y, size=20, xanchor="center", yanchor="middle", color="black", angle=0, bold=False,
      italic=False, family=FONT):
    ann.append(dict(text=text, x=x / W, y=1 - y / H, xref="paper", yref="paper", showarrow=False,
                    xanchor=xanchor, yanchor=yanchor, textangle=angle,
                    font=dict(family=family, size=size, color=color, weight="bold" if bold else "normal",
                              style="italic" if italic else "normal")))


for g, v, s, dr, fo in zip(f_ar_genus, f_ar_otu, f_ar_sd, f_ar_dir, f_ar_fold):
    col = UPC if dr == "up" else DNC
    arrow = "↑" if dr == "up" else "↓"
    ann.append(dict(text="<span style='font-size:21px'>" + arrow + "</span>**** x " + fo,
                    x=v + s, y=g, xref="x11", yref="y11",
                    xanchor="left", yanchor="middle", xshift=2, showarrow=False,
                    font=dict(family=FONT, size=17, color=col)))

# ---------------- panel g ----------------
g_xpos = [0, 1, 2.7, 3.7]
xg_rng = lin_range(127, 423, 176, 0, 233, 1)
xr, yr = add_axes(12, dom_x(127, 423), xg_rng, dom_y(1673, 1958), [0, 4],
                  xkw=dict(tickvals=g_xpos, ticktext=g_labels, ticklen=9),
                  ykw=dict(anchor="free", position=136 / W, tickvals=[0, 1, 2, 3, 4]))
swarm_panel(xr, yr, [strep_hc, strep_ar, sal_hc, sal_ar], g_xpos, [BLUE, RED, "#4A92D8", "#F7941D"],
            ["circle", "square", "circle", "square"], 7, 4.8, 57.0, 71.25, g_mean, g_sd, 38, 10)
shapes.append(dict(type="line", xref=xr, yref=yr, x0=-0.1, x1=0.91, y0=3.75, y1=3.75,
                   line=dict(color="black", width=2)))
shapes.append(dict(type="line", xref=xr, yref=yr, x0=2.7, x1=3.7, y0=2.905, y1=2.905,
                   line=dict(color="black", width=2)))

# ---------------- panel h ----------------
xh_rng = lin_range(558, 711, 603, 0, 675, 1)
xr, yr = add_axes(13, dom_x(558, 711), xh_rng, dom_y(1676, 1959), [-5, 20],
                  xkw=dict(tickvals=[0, 1], ticktext=h_cats, ticklen=9),
                  ykw=dict(anchor="free", position=569 / W, tickvals=[-5, 0, 5, 10, 15, 20]))
shapes.append(dict(type="line", xref=xr + " domain", yref=yr, x0=0.11, x1=0.97, y0=0, y1=0,
                   line=dict(color="black", width=1.5, dash="dot")))
swarm_panel(xr, yr, [qpcr_hc, qpcr_ar], [0, 1], ["#2B50A5", "#EE2A2A"], ["square", "triangle-up"], 9.5, 5.8,
            72.0, 11.32, qpcr_mean, qpcr_sd, 45, 13)

# ---------------- legends (drawn) ----------------
# b legend
shapes.append(dict(type="rect", xref="paper", yref="paper", x0=603 / W, x1=740 / W, y0=1 - 82 / H, y1=1 - 42 / H,
                   line=dict(color="#555555", width=1.5)))
shapes.append(dict(type="circle", xref="paper", yref="paper", x0=614 / W, x1=620 / W, y0=1 - 57 / H, y1=1 - 51 / H,
                   fillcolor=BLUE, line=dict(width=0)))
shapes.append(dict(type="rect", xref="paper", yref="paper", x0=614 / W, x1=620 / W, y0=1 - 75 / H, y1=1 - 69 / H,
                   fillcolor=RED, line=dict(width=0)))
A("Healthy controls", 627, 54, size=15, xanchor="left")
A("AR", 627, 72, size=15, xanchor="left")

# c legend
for k, (ph, ch) in enumerate(zip(phyla_legend, phyla_change)):
    yc = 472 + 26.7 * k
    shapes.append(dict(type="rect", xref="paper", yref="paper", x0=318 / W, x1=337 / W,
                       y0=1 - (yc + 8.5) / H, y1=1 - (yc - 8.5) / H, fillcolor=PHY_COL[ph],
                       line=dict(color="black", width=1.5)))
    txt = ph
    if ch:
        col = UPC if ch == "up" else DNC
        arrow = "↑" if ch == "up" else "↓"
        txt += (" <span style='color:%s;font-size:21px'>%s</span><span style='color:%s'>****</span>"
                % (col, arrow, col))
    A(txt, 350, yc, size=16, xanchor="left")

# e legend
e_cols = [["Corynebacterium 1", "Staphylococcus", "Faecalibacterium", "Bacteroides"],
          ["Prevotella 9", "Escherichia/Shigella", "Megamonas", "Ruminococcus 2"],
          ["Lactobacillus", "Streptococcus", "Subdoligranulum"]]
col_sq = [10, 256, 522]
col_tx = [45, 291, 554]
rows = [1075, 1096, 1117, 1138, 1160]
for ci, names in enumerate(e_cols):
    for ri, g in enumerate(names):
        yc = rows[ri]
        shapes.append(dict(type="rect", xref="paper", yref="paper", x0=col_sq[ci] / W, x1=(col_sq[ci] + 19) / W,
                           y0=1 - (yc + 9) / H, y1=1 - (yc - 9) / H, fillcolor=GEN_COL[g],
                           line=dict(width=0)))
        A(g, col_tx[ci], yc, size=20, xanchor="left", italic=True)
for x0, c in [(522, GEN_COL["Other dark"]), (543, GEN_COL["Other light"])]:
    shapes.append(dict(type="rect", xref="paper", yref="paper", x0=x0 / W, x1=(x0 + 19) / W,
                       y0=1 - (rows[3] + 10) / H, y1=1 - (rows[3] - 10) / H, fillcolor=c, line=dict(width=0)))
A("Other genera (&gt; 1%)", 567, rows[3], size=20, xanchor="left")
shapes.append(dict(type="rect", xref="paper", yref="paper", x0=523 / W, x1=541 / W,
                   y0=1 - (rows[4] + 9) / H, y1=1 - (rows[4] - 9) / H, fillcolor="white",
                   line=dict(color="black", width=1.5)))
A("All other genera", 554, rows[4], size=20, xanchor="left")

# ---------------- text ----------------
for t, x, y in [("a", 47, 15), ("b", 402, 15), ("c", 37, 385), ("d", 511, 385), ("e", 10, 737),
                ("f", 20, 1218), ("g", 94, 1650), ("h", 461, 1653)]:
    A(t, x, y, size=24, bold=True)
A("Alpha diversity", 232, 16, size=20)
A("Beta diversity", 610, 16, size=20)
A("Shannon diversity index", 47, 177, size=20, angle=-90)
A("PC2", 400, 175, size=20, angle=-90)
A("PC1", 603, 367, size=20)
A("<i>p</i>&lt;0.0001", 299, 78, size=15)
A("<i>p</i>=0.001", 662, 127, size=15, xanchor="left")
A("R<sup>2</sup>=0.59", 662, 146, size=15, xanchor="left")
A("Relative abundance", 37, 540, size=20, angle=-90)
A("Relative abundance", 514, 548, size=20, angle=-90)
A("Firmicutes", 675, 386, size=16, italic=True)
A("<i>p</i>&lt;0.0001", 725, 412, size=15)
A("Relative abundance", 12, 883, size=20, angle=-90)
A("HC", 206, 1217, size=20)
A("AR", 519, 1217, size=20)
A("Detected OTUs", 281, 1592, size=20)
A("Detected OTUs", 615, 1592, size=20)
A("Detected OTUs (x 10<sup>3</sup>)", 99, 1817, size=20, angle=-90)
A("<i>p</i>&lt;0.0001", 200, 1677, size=15)
A("<i>p</i>&lt;0.0001", 358, 1737, size=15)
A("↑ x 17.15", 361, 1811, size=18, xanchor="right", color=UPC)
A("Streptococcus", 197, 2018, size=20, italic=True)
A("S. salivarius", 358, 2006, size=20, italic=True)
A("(OTU GQ155595.1.1354)", 358, 2028, size=15)
A("S. salivarius", 639, 1656, size=20, italic=True)
A("<i>p</i>&lt;0.0001", 679, 1690, size=15)
A("Abundance by qPCR<br>(<i>gtf</i>, rel. units x 10<sup>-5</sup>)", 497, 1820, size=20, angle=-90)

fig.update_layout(width=W, height=H, margin=dict(l=0, r=0, t=0, b=0), paper_bgcolor="white",
                  plot_bgcolor="white", showlegend=False, barmode="stack", bargap=0,
                  font=dict(family=FONT, size=20, color="black"), shapes=shapes, annotations=ann,
                  **layout_axes)
fig.write_html("out.html")
